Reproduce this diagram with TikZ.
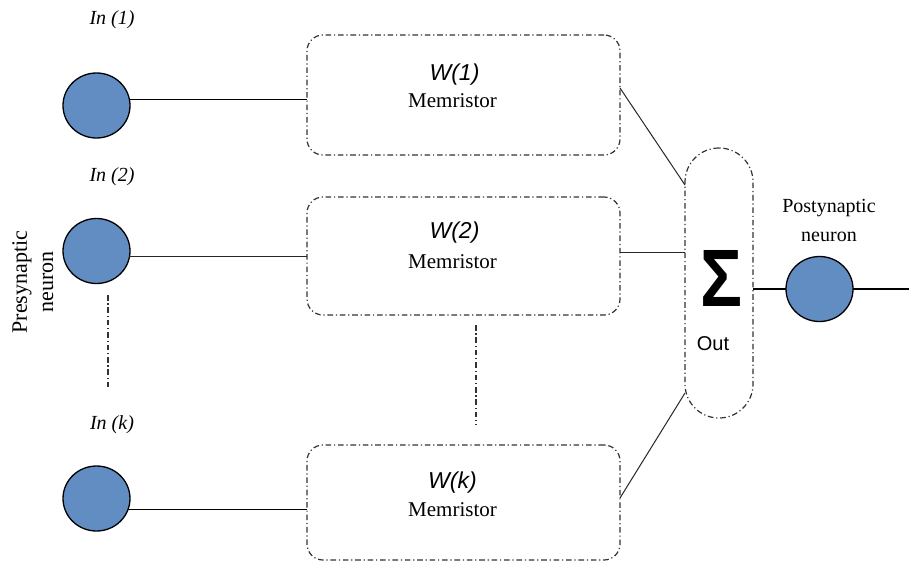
\documentclass[tikz,border=0pt]{standalone}
\usepackage{fontspec}
\setmainfont{Liberation Serif}
\setsansfont{Liberation Sans}
\usepackage{graphicx}
\usetikzlibrary{shapes.geometric}
\definecolor{neuronblue}{RGB}{98,141,194}
\definecolor{boxline}{RGB}{50,50,50}
\begin{document}
\begin{tikzpicture}[x=0.5pt,y=-0.5pt,
  neuron/.style={ellipse,draw=black,line width=0.65pt,fill=neuronblue,minimum width=33.5pt,minimum height=32.5pt,inner sep=0pt,outer sep=0pt},
  dashdot/.style={draw=boxline,line width=0.6pt,dash pattern=on 2.8pt off 1.4pt on 0.6pt off 1.4pt},
  membox/.style={dashdot,rounded corners=8pt,minimum width=156.5pt,inner sep=0pt,outer sep=0pt},
  sumbox/.style={dashdot,rounded corners=17pt,minimum width=34pt,minimum height=135pt,inner sep=0pt,outer sep=0pt},
  wire/.style={line width=0.65pt,black},
  thinwire/.style={line width=0.5pt,black!85},
  inlab/.style={font=\fontsize{10pt}{12pt}\selectfont\itshape},
  wlab/.style={font=\fontsize{11.5pt}{13pt}\selectfont\sffamily\itshape},
  mlab/.style={font=\fontsize{10.5pt}{12pt}\selectfont},
  plab/.style={font=\fontsize{10pt}{12pt}\selectfont}
]
\useasboundingbox (0,0) rectangle (909,562);

% presynaptic neurons
\node[neuron] (c1) at (96.5,105.5) {};
\node[neuron] (c2) at (96.5,251) {};
\node[neuron] (ck) at (96.5,498.5) {};

% memristor boxes
\node[membox,minimum height=60pt] (b1) at (463.5,95) {};
\node[membox,minimum height=59pt] (b2) at (463.5,256) {};
\node[membox,minimum height=57.5pt] (bk) at (463.5,502.5) {};

\node[wlab] (w1) at ([shift={(-9,-20)}]b1.center) {W(1)};
\node[mlab] (m1) at ([shift={(-11,6)}]b1.center) {Memristor};
\node[wlab] (w2) at ([shift={(-9,-23)}]b2.center) {W(2)};
\node[mlab] (m2) at ([shift={(-11,6)}]b2.center) {Memristor};
\node[wlab] (wk) at ([shift={(-11,-20)}]bk.center) {W(k)};
\node[mlab] (mk) at ([shift={(-11,7.5)}]bk.center) {Memristor};

% summation
\node[sumbox] (s) at (719,283) {};
\node (sig) at (721,278) {\resizebox{21pt}{28pt}{\sffamily\bfseries Σ}};
\node[font=\fontsize{10pt}{12pt}\selectfont\sffamily] (out) at (713,344) {Out};

% postsynaptic neuron
\node[neuron] (p) at (819.5,289) {};
\coordinate (pend) at (909,289);

% labels
\node[inlab] (in1) at (112,20) {In (1)};
\node[inlab] (in2) at (112,177) {In (2)};
\node[inlab] (ink) at (112,425) {In (k)};
\node[plab] (post1) at (829,208) {Postynaptic};
\node[plab] (post2) at (829,237) {neuron};
\node[font=\fontsize{11pt}{13pt}\selectfont,rotate=90] (pre1) at (22,282) {Presynaptic};
\node[font=\fontsize{11pt}{13pt}\selectfont,rotate=90] (pre2) at (48,282) {neuron};

% connectors neuron -> box
\draw[wire] (c1.10) -- (c1.10 -| b1.west);
\draw[thinwire] (c2.-10) -- (c2.-10 -| b2.west);
\draw[wire] (ck.-19) -- (ck.-19 -| bk.west);

% box -> sum
\draw[thinwire] ([yshift=3.5pt]b1.east) -- ([yshift=49pt]s.west);
\draw[thinwire] ([yshift=2pt]b2.east) -- ([yshift=2pt]b2.east -| s.west);
\draw[thinwire] ([yshift=2.25pt]bk.east) -- ([yshift=-55pt]s.west);

% sum -> postsynaptic
\draw[wire] (p.west -| s.east) -- (p.west);
\draw[wire] (p.east) -- (pend);

% ellipsis lines
\coordinate (d1a) at (108,295);
\coordinate (d1b) at (108,390);
\coordinate (d2a) at (476,325);
\coordinate (d2b) at (476,425);
\draw[dashdot] (d1a) -- (d1b);
\draw[dashdot] (d2a) -- (d2b);
\end{tikzpicture}
\end{document}
